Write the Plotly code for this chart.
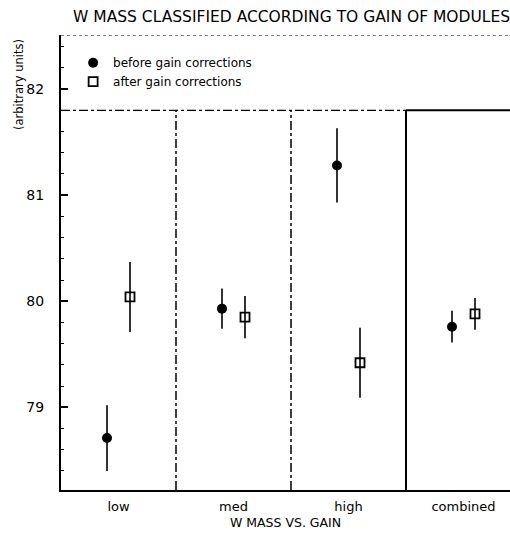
import plotly.graph_objects as go

categories = ["low", "med", "high", "combined"]
before_vals = [78.71, 79.93, 81.28, 79.76]
before_err = [0.31, 0.19, 0.35, 0.15]
after_vals = [80.04, 79.85, 79.42, 79.88]
after_err = [0.33, 0.20, 0.33, 0.15]

xpos = list(range(len(categories)))
off = 0.1
FONT = "DejaVu Sans, Liberation Sans, sans-serif"

fig = go.Figure()
fig.add_trace(go.Scatter(
    x=[i - off for i in xpos], y=before_vals, mode="markers",
    name="before gain corrections",
    marker=dict(symbol="circle", size=10, color="black"),
    error_y=dict(type="data", array=before_err, width=0, thickness=1.6, color="black"),
))
fig.add_trace(go.Scatter(
    x=[i + off for i in xpos], y=after_vals, mode="markers",
    name="after gain corrections",
    marker=dict(symbol="square-open", size=9, color="black", line=dict(width=1.8)),
    error_y=dict(type="data", array=after_err, width=0, thickness=1.6, color="black"),
))

ylo, yhi = 78.22, 82.51
box_top = 81.8
shapes = []
n = len(categories)
for i in range(n - 2):
    shapes.append(dict(type="line", xref="x", yref="y", x0=i + 0.5, x1=i + 0.5,
                       y0=ylo, y1=box_top, line=dict(color="black", width=1.5, dash="dashdot")))
shapes.append(dict(type="line", xref="x", yref="y", x0=-0.5, x1=n - 1.5,
                   y0=box_top, y1=box_top, line=dict(color="black", width=1.2, dash="dashdot")))
shapes.append(dict(type="line", xref="x", yref="y", x0=n - 1.5, x1=n - 1.5,
                   y0=ylo, y1=box_top, line=dict(color="black", width=2)))
shapes.append(dict(type="line", xref="x", yref="y", x0=n - 1.5, x1=n - 0.5,
                   y0=box_top, y1=box_top, line=dict(color="black", width=2)))
shapes.append(dict(type="line", xref="paper", yref="y", x0=0, x1=1,
                   y0=yhi, y1=yhi, line=dict(color="black", width=1, dash="dot")))

fig.update_layout(
    width=510, height=533,
    margin=dict(l=61, r=0, t=35, b=43),
    paper_bgcolor="white", plot_bgcolor="white",
    font=dict(family=FONT, color="black", size=12),
    shapes=shapes,
    showlegend=True,
    legend=dict(x=0.027, y=0.971, xanchor="left", yanchor="top",
                bgcolor="rgba(0,0,0,0)", font=dict(size=12, family=FONT),
                itemwidth=30, tracegroupgap=0),
    annotations=[
        dict(text="W MASS CLASSIFIED ACCORDING TO GAIN OF MODULES", xref="paper", yref="paper",
             x=1.0, y=1.0, xshift=2, yshift=18, xanchor="right", yanchor="middle", showarrow=False,
             font=dict(size=15.5, family=FONT)),
        dict(text="(arbitrary units)", xref="paper", yref="paper", x=0, xshift=-42,
             y=1.0, yshift=-50, textangle=-90, xanchor="center", yanchor="middle",
             showarrow=False, font=dict(size=11.5, family=FONT)),
    ],
)
fig.update_xaxes(
    range=[-0.5, -0.5 + 449 / 115], tickvals=xpos, ticktext=categories,
    showgrid=False, zeroline=False, showline=True, linecolor="black", linewidth=2,
    ticks="", tickfont=dict(size=13), ticklabelstandoff=3,
    title=dict(text="W MASS VS. GAIN", font=dict(size=12.5), standoff=6),
)
fig.update_yaxes(
    range=[ylo, yhi], tickvals=[79, 80, 81, 82], showgrid=False, zeroline=False,
    showline=True, linecolor="black", linewidth=2,
    ticks="inside", ticklen=7, tickwidth=2, tickcolor="black",
    tickfont=dict(size=14), ticklabelstandoff=12,
    minor=dict(dtick=0.2, tick0=78, ticks="inside", ticklen=3, tickwidth=1, tickcolor="black"),
)
fig.write_html("out.html")
